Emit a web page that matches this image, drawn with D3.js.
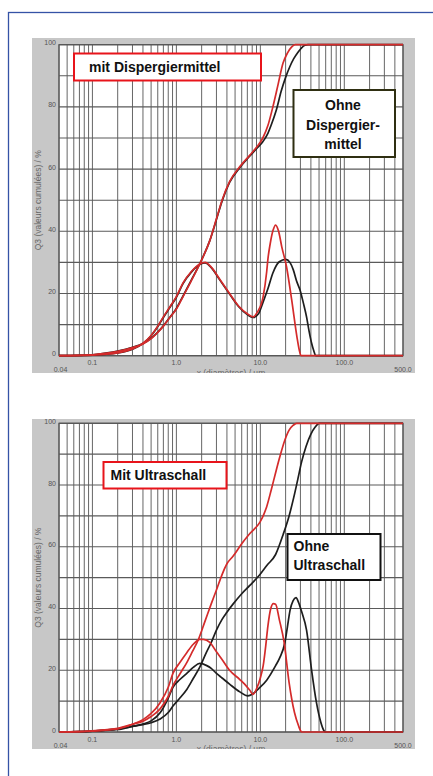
<!DOCTYPE html>
<html>
<head>
<meta charset="utf-8">
<script src="https://cdn.jsdelivr.net/npm/d3@7"></script>
<style>
  html, body { margin: 0; padding: 0; background: #fff; }
  svg { display: block; }
</style>
</head>
<body>
<div id="chart"></div>
<script>
// ---- data: [particle size in µm, %] ----
const dispCumMit = [[0.04,0],[0.07,0.1],[0.1,0.3],[0.15,0.8],[0.2,1.4],[0.3,2.6],[0.4,3.8],[0.5,5.5],[0.6,7.5],[0.7,9.5],[0.85,12.5],[1.0,15],[1.2,19],[1.5,24],[1.9,29.5],[2.5,37],[3.0,44],[3.5,50],[4.3,56],[5.7,60.8],[7.5,64.5],[9,67],[10.7,70],[12.3,74],[14.1,80],[16.2,87],[18.6,94],[21,97.3],[23.5,99.2],[26,100],[500,100]];
const dispCumOhne = [[0.04,0],[0.07,0.1],[0.1,0.3],[0.15,0.9],[0.2,1.5],[0.3,2.7],[0.4,3.9],[0.5,5.6],[0.6,7.6],[0.7,9.6],[0.85,12.6],[1.0,15.2],[1.2,19.2],[1.5,24.2],[1.9,29.6],[2.5,37],[3.0,43.8],[3.5,49.7],[4.3,55.7],[5.7,60.5],[7.5,64.2],[9,66.6],[10.7,68.8],[12.3,71.5],[13.4,74],[15.5,79],[17.7,85],[20,89.5],[22.5,93],[25,95.5],[28,97.5],[31,99],[34,99.8],[37,100],[500,100]];
const dispFreqMit = [[0.04,0],[0.1,0.2],[0.2,0.9],[0.3,2.2],[0.4,4],[0.5,6.5],[0.6,9.5],[0.7,12.5],[0.85,16],[1.0,19],[1.2,23.4],[1.5,27],[1.9,29.5],[2.2,30],[2.6,28.5],[3.3,24.5],[4.3,20],[5.5,16],[7,13.5],[8.2,12.5],[9.2,14],[10.8,19],[11.9,27],[12.3,31],[13.1,36],[14.2,40.4],[15.2,42],[16.5,40],[18,35],[20.5,28.6],[23.6,18],[27.3,6],[29,2],[30.5,0],[500,0]];
const dispFreqOhne = [[0.04,0],[0.1,0.2],[0.2,0.9],[0.3,2.1],[0.4,3.9],[0.5,6.4],[0.6,9.4],[0.7,12.3],[0.85,15.8],[1.0,18.8],[1.2,23.2],[1.5,26.8],[1.9,29.3],[2.2,29.8],[2.6,28.3],[3.3,24.3],[4.3,19.8],[5.5,15.8],[7,13.2],[8.2,12.3],[9.5,13.5],[10.7,17],[12.3,21.5],[14.1,26.6],[16.8,30.2],[20.1,31],[22.5,30],[24.7,27.6],[27,24],[29.8,21],[32.5,17],[35.5,12.5],[38,8],[40.8,4],[43,1.8],[46,0],[500,0]];

const ultraCumMit = [[0.04,0],[0.07,0.1],[0.1,0.4],[0.2,1.2],[0.3,2.5],[0.4,3.5],[0.5,5],[0.64,7.5],[0.8,11.5],[0.91,15],[1.1,18.8],[1.33,22.5],[1.55,26],[1.82,29.8],[2.2,36],[2.6,41.5],[3.0,46],[3.5,51],[4.0,54.5],[4.75,57],[6,61],[7.5,64.3],[9.9,68],[11,70.5],[11.9,73],[13.5,78.5],[15.2,84],[17,89],[19.6,94.6],[22,97.8],[24.5,99.3],[27,100],[500,100]];
const ultraCumOhne = [[0.04,0],[0.07,0.1],[0.1,0.3],[0.2,1],[0.3,1.8],[0.4,2.4],[0.5,3],[0.64,4.2],[0.8,6.3],[0.91,8.4],[1.1,11],[1.33,13.8],[1.6,17.5],[1.9,21],[2.27,25.7],[2.6,29],[3.0,33],[3.5,36.5],[4.0,38.8],[4.75,41.5],[6,44.8],[7.5,47.5],[9.9,51],[12,54],[15.2,57.5],[18.7,64],[22,70],[25,76],[28,82],[31,87.5],[35,92.5],[40,96.5],[45,98.8],[50,100],[500,100]];
const ultraFreqMit = [[0.04,0],[0.1,0.3],[0.2,1],[0.3,2.5],[0.4,4],[0.5,6],[0.64,9.5],[0.8,14.5],[0.91,19],[1.1,22.5],[1.33,25.7],[1.6,28.5],[1.9,30],[2.1,30],[2.5,29],[3.0,26],[3.5,23.5],[4.3,20],[5.7,17],[6.5,15.5],[7.5,13.5],[8.2,12.2],[9,14],[10,17.5],[10.8,21.4],[11.6,28],[12.3,34.3],[13.3,40],[14.3,41.6],[15.2,41.4],[16.8,36.5],[19.2,29],[22,16],[25.5,6.3],[28.5,2],[30,0.5],[31,0],[500,0]];
const ultraFreqOhne = [[0.04,0],[0.1,0.3],[0.2,0.8],[0.3,1.8],[0.4,2.6],[0.5,3.6],[0.64,6.2],[0.8,11],[0.91,14.5],[1.1,17],[1.33,19],[1.6,21],[1.9,22.2],[2.3,21.5],[2.6,20.6],[3.0,19],[3.5,17.5],[4.3,15.5],[5.7,13],[7.1,11.7],[8.1,12.3],[9.5,14],[11.9,16.8],[15.2,21.5],[17,24],[19.6,29],[21,34],[22.6,39.5],[24.5,42.5],[26.6,43.5],[28.5,42],[31,39],[35.5,33],[40.8,20],[46.6,9.5],[52.7,3],[57,0.5],[59,0],[500,0]];

const xDomain = [0.04, 500];
const xTickVals = [0.1, 1, 10, 100];
const xTickText = ["0.1", "1.0", "10.0", "100.0"];
const xEndText = ["0.04", "500.0"];
const yTickVals = [0, 20, 40, 60, 80, 100];
const xTitle = "x (diamètres) / µm";
const yTitle = "Q3 (valeurs cumulées) / %";

const RED = "#d42b2b", BLACK = "#1e1e1e";

const svg = d3.select("#chart").append("svg")
    .attr("width", 433)
    .attr("height", 776);

// outer blue frame (runs off the page on the right / bottom)
svg.append("rect")
    .attr("x", 8.5).attr("y", 12.5)
    .attr("width", 500).attr("height", 900)
    .attr("fill", "none")
    .attr("stroke", "#3553a6")
    .attr("stroke-width", 1.3);

function drawChart(cfg) {
    const x = d3.scaleLog().domain(xDomain).range([59, 403]);
    const y = d3.scaleLinear().domain([0, 100]).range([cfg.bottom, cfg.top]);

    const clipId = "clip" + cfg.id;
    svg.append("clipPath").attr("id", clipId)
        .append("rect")
        .attr("x", 32).attr("y", cfg.panelTop)
        .attr("width", 383).attr("height", cfg.panelBottom - cfg.panelTop);

    const g = svg.append("g").attr("clip-path", `url(#${clipId})`);

    // gray panel + white plot area
    g.append("rect")
        .attr("x", 32).attr("y", cfg.panelTop)
        .attr("width", 383).attr("height", cfg.panelBottom - cfg.panelTop)
        .attr("fill", "#c7c7c7");
    g.append("rect")
        .attr("x", 59).attr("y", y(100))
        .attr("width", 344).attr("height", y(0) - y(100))
        .attr("fill", "#fff");

    // grid
    g.append("g").selectAll("line")
        .data(x.ticks())
        .join("line")
        .attr("x1", d => x(d)).attr("x2", d => x(d))
        .attr("y1", y(100)).attr("y2", y(0))
        .attr("stroke", "#666").attr("stroke-width", 1);
    g.append("g").selectAll("line")
        .data(d3.range(0, 101, 10))
        .join("line")
        .attr("x1", 59).attr("x2", 403)
        .attr("y1", d => y(d)).attr("y2", d => y(d))
        .attr("stroke", "#5a5a5a").attr("stroke-width", 1.1);
    g.append("rect")
        .attr("x", 59).attr("y", y(100))
        .attr("width", 344).attr("height", y(0) - y(100))
        .attr("fill", "none").attr("stroke", "#555").attr("stroke-width", 1.2);

    // tick labels
    g.append("g").selectAll("text")
        .data(yTickVals)
        .join("text")
        .attr("x", 56).attr("y", d => y(d) + 0.5)
        .attr("text-anchor", "end")
        .style("font", "7px 'Liberation Sans', Arial, sans-serif")
        .style("fill", "#555")
        .text(d => d);
    g.append("g").selectAll("text")
        .data(xTickVals)
        .join("text")
        .attr("x", d => x(d)).attr("y", y(0) + 9.5)
        .attr("text-anchor", "middle")
        .style("font", "7px 'Liberation Sans', Arial, sans-serif")
        .style("fill", "#555")
        .text((d, i) => xTickText[i]);
    g.append("g").selectAll("text")
        .data(xDomain)
        .join("text")
        .attr("x", d => x(d) + (d === 500 ? 0 : 1.5)).attr("y", y(0) + 16)
        .attr("text-anchor", "middle")
        .style("font", "7px 'Liberation Sans', Arial, sans-serif")
        .style("fill", "#555")
        .text((d, i) => xEndText[i]);

    // axis titles (x title is cut by the panel edge, as in the source)
    g.append("text")
        .attr("x", 231).attr("y", cfg.panelBottom + 2.5)
        .attr("text-anchor", "middle")
        .style("font", "8.5px 'Liberation Sans', Arial, sans-serif")
        .style("fill", "#666")
        .text(xTitle);
    g.append("text")
        .attr("transform", `translate(41, ${(y(0) + y(100)) / 2}) rotate(-90)`)
        .attr("text-anchor", "middle")
        .style("font", "8.5px 'Liberation Sans', Arial, sans-serif")
        .style("fill", "#666")
        .text(yTitle);

    // curves
    const line = d3.line()
        .x(d => x(d[0]))
        .y(d => y(d[1]))
        .curve(d3.curveMonotoneX);
    const series = [
        { data: cfg.freqOhne, color: BLACK },
        { data: cfg.cumOhne, color: BLACK },
        { data: cfg.freqMit, color: RED },
        { data: cfg.cumMit, color: RED }
    ];
    svg.append("g").selectAll("path")
        .data(series)
        .join("path")
        .attr("d", d => line(d.data))
        .attr("fill", "none")
        .attr("stroke", d => d.color)
        .attr("stroke-width", 1.7)
        .attr("stroke-linejoin", "round");

    // label boxes
    cfg.boxes.forEach(b => {
        svg.append("rect")
            .attr("x", b.x).attr("y", b.y)
            .attr("width", b.w).attr("height", b.h)
            .attr("fill", "#fff")
            .attr("stroke", b.stroke)
            .attr("stroke-width", 2);
        svg.append("text")
            .attr("x", b.tx).attr("y", b.ty)
            .attr("text-anchor", b.anchor)
            .style("font", "bold 14px 'Liberation Sans', Arial, sans-serif")
            .style("fill", "#111")
            .selectAll("tspan")
            .data(b.lines)
            .join("tspan")
            .attr("x", b.tx)
            .attr("dy", (d, i) => i === 0 ? 0 : b.lh)
            .text(d => d);
    });
}

drawChart({
    id: 1, panelTop: 38, panelBottom: 373, top: 44.7, bottom: 355.7,
    cumMit: dispCumMit, cumOhne: dispCumOhne, freqMit: dispFreqMit, freqOhne: dispFreqOhne,
    boxes: [
        { x: 74, y: 53.5, w: 187, h: 27, stroke: "#e8141b", tx: 89, ty: 72, anchor: "start", lh: 0, lines: ["mit Dispergiermittel"] },
        { x: 293.5, y: 90, w: 101.5, h: 67, stroke: "#2f2f12", tx: 343, ty: 110, anchor: "middle", lh: 19.5, lines: ["Ohne", "Dispergier-", "mittel"] }
    ]
});

drawChart({
    id: 2, panelTop: 419, panelBottom: 749, top: 423.3, bottom: 732,
    cumMit: ultraCumMit, cumOhne: ultraCumOhne, freqMit: ultraFreqMit, freqOhne: ultraFreqOhne,
    boxes: [
        { x: 103.5, y: 462, w: 123, h: 26.5, stroke: "#e8141b", tx: 110.5, ty: 480, anchor: "start", lh: 0, lines: ["Mit Ultraschall"] },
        { x: 287.5, y: 534, w: 93, h: 46, stroke: "#111", tx: 293.5, ty: 551, anchor: "start", lh: 19, lines: ["Ohne", "Ultraschall"] }
    ]
});
</script>
</body>
</html>
